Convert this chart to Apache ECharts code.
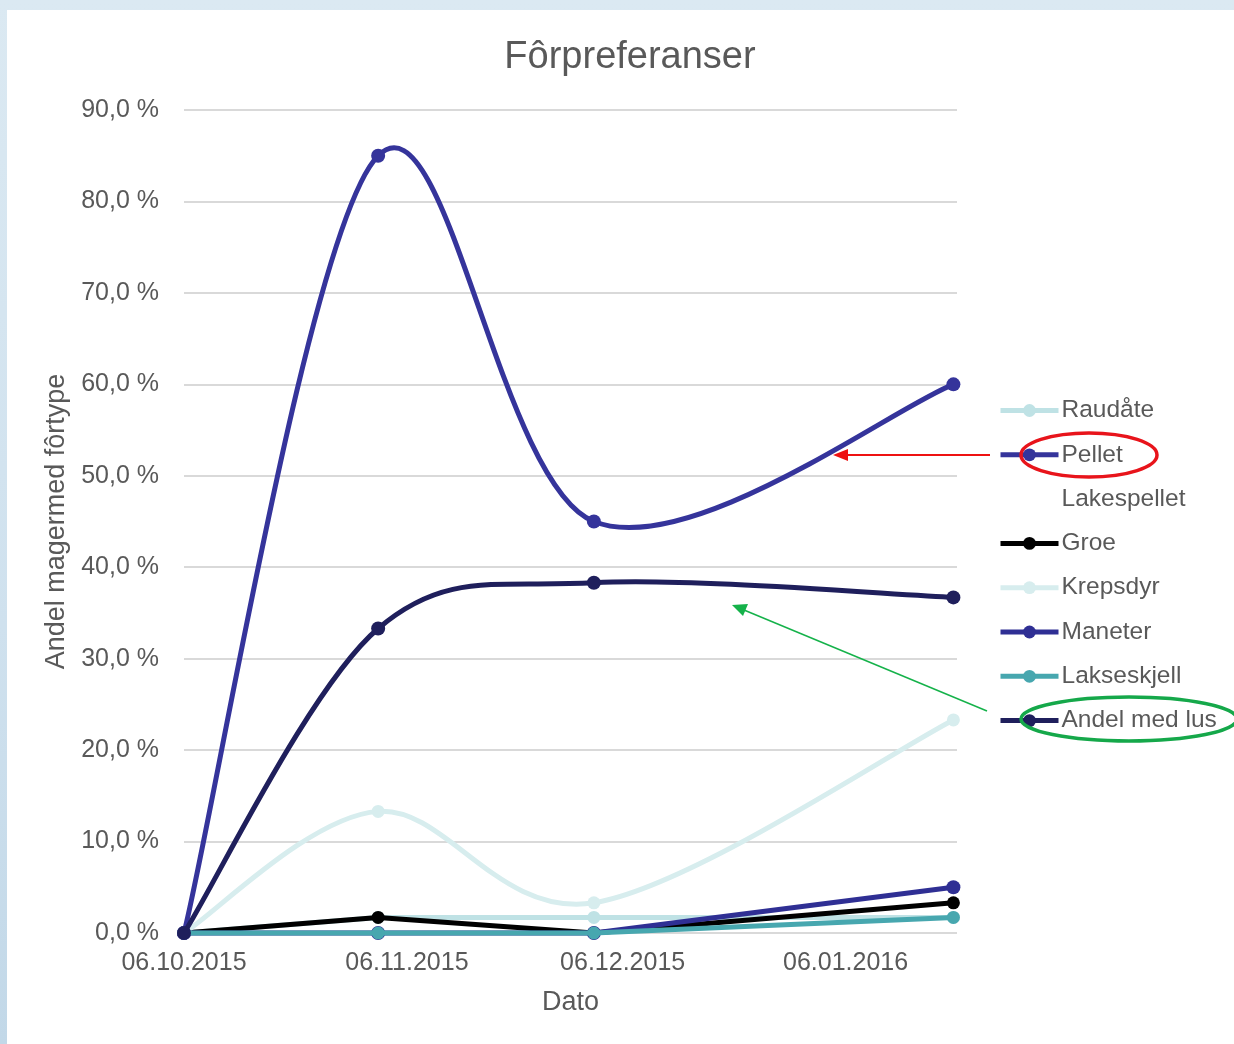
<!DOCTYPE html>
<html>
<head>
<meta charset="utf-8">
<script src="https://cdn.jsdelivr.net/npm/echarts@6/dist/echarts.min.js"></script>
<style>
  html, body { margin: 0; padding: 0; width: 1234px; height: 1044px; overflow: hidden;
    background: linear-gradient(180deg, #dbe9f2 0%, #cfe1ee 60%, #c2d8e8 100%); }
  #panel { position: absolute; left: 7px; top: 10px; width: 1227px; height: 1034px; background: #ffffff; }
  #main { position: absolute; left: 0; top: 0; width: 1234px; height: 1044px; }
</style>
</head>
<body>
<div id="panel"></div>
<div id="main"></div>
<script>
// ---- data ----
const dates = ['2015-10-06', '2015-11-02', '2015-12-02', '2016-01-21'];
const tickDates = ['2015-10-06', '2015-11-06', '2015-12-06', '2016-01-06'];
const seriesNames = ['Raudåte', 'Pellet', 'Lakespellet', 'Groe', 'Krepsdyr', 'Maneter', 'Lakseskjell', 'Andel med lus'];
const raudate     = [0, 1.7, 1.7, 1.7];
const pellet      = [0, 85.0, 45.0, 60.0];
const lakespellet = [];
const groe        = [0, 1.7, 0, 3.3];
const krepsdyr    = [0, 13.3, 3.3, 23.3];
const maneter     = [0, 0, 0, 5.0];
const lakseskjell = [0, 0, 0, 1.7];
const andelMedLus = [0, 33.3, 38.3, 36.7];
const yTicks = [0, 10, 20, 30, 40, 50, 60, 70, 80, 90];

const DAY = 86400000;
function toTime(s) { const p = s.split('-').map(Number); return Date.UTC(p[0], p[1] - 1, p[2]); }
function pairs(vals) { return vals.map((v, i) => [toTime(dates[i]), v]); }
function pad(n) { return (n < 10 ? '0' : '') + n; }

const FONT = "'Liberation Sans', Arial, sans-serif";
const TXT = '#595959';
const LW = 5;

// Legend-only line series (empty data) + custom series that draws the curve through the axes
function legendSeries(name, color, visible) {
  return {
    name: name, type: 'line', data: [], symbol: visible ? 'circle' : 'none', symbolSize: 13,
    lineStyle: { color: visible ? color : 'rgba(0,0,0,0)', width: visible ? LW : 0 },
    itemStyle: { color: visible ? color : 'rgba(0,0,0,0)' }, animation: false
  };
}

function curveSeries(name, vals, color, smooth, symSize) {
  const pts = pairs(vals);
  return {
    name: name, type: 'custom', data: pts, animation: false, silent: true,
    encode: { x: 0, y: 1 },
    renderItem: function (params, api) {
      const c = api.coord([api.value(0), api.value(1)]);
      const circle = { type: 'circle', shape: { cx: c[0], cy: c[1], r: symSize / 2 }, style: { fill: color } };
      if (params.dataIndex !== 0) return circle;
      const P = pts.map(p => api.coord(p));
      let d = 'M' + P[0][0] + ' ' + P[0][1];
      for (let i = 0; i < P.length - 1; i++) {
        const p0 = P[Math.max(i - 1, 0)], p1 = P[i], p2 = P[i + 1], p3 = P[Math.min(i + 2, P.length - 1)];
        if (smooth) {
          const c1 = [p1[0] + (p2[0] - p0[0]) / 6, p1[1] + (p2[1] - p0[1]) / 6];
          const c2 = [p2[0] - (p3[0] - p1[0]) / 6, p2[1] - (p3[1] - p1[1]) / 6];
          d += ' C' + c1[0] + ' ' + c1[1] + ' ' + c2[0] + ' ' + c2[1] + ' ' + p2[0] + ' ' + p2[1];
        } else {
          d += ' L' + p2[0] + ' ' + p2[1];
        }
      }
      return {
        type: 'group', children: [
          { type: 'path', shape: { pathData: d }, style: { fill: null, stroke: color, lineWidth: LW, lineJoin: 'round', lineCap: 'round' } },
          circle
        ]
      };
    }
  };
}

const colors = ['#bfe2e5', '#35349b', null, '#000000', '#d7edee', '#2f2f94', '#47a7af', '#1f1f5c'];
const valueSets = [raudate, pellet, lakespellet, groe, krepsdyr, maneter, lakseskjell, andelMedLus];
const smoothFlags = [false, true, false, false, true, false, false, true];
const symSizes = [13, 14, 0, 13, 13, 14, 13, 14];

const series = [];
seriesNames.forEach((n, i) => series.push(legendSeries(n, colors[i], !!colors[i])));
seriesNames.forEach((n, i) => {
  if (colors[i] && valueSets[i].length) series.push(curveSeries(n, valueSets[i], colors[i], smoothFlags[i], symSizes[i]));
});

const chart = echarts.init(document.getElementById('main'), null, { renderer: 'canvas' });
const xMin = toTime(dates[0]);
const xMax = toTime(dates[3]) + DAY / 2;

chart.setOption({
  backgroundColor: 'transparent',
  animation: false,
  textStyle: { fontFamily: FONT },
  title: {
    text: 'Fôrpreferanser', left: 625, top: 34, textAlign: 'center',
    textStyle: { fontFamily: FONT, fontSize: 38, fontWeight: 'normal', color: TXT }
  },
  grid: { left: 184, top: 110, right: 1234 - 957, bottom: 1044 - 933, containLabel: false },
  xAxis: {
    type: 'value', min: xMin, max: xMax, scale: true,
    name: 'Dato', nameLocation: 'middle', nameGap: 56,
    nameTextStyle: { fontFamily: FONT, fontSize: 27, color: TXT },
    axisLine: { show: false }, axisTick: { show: false },
    splitLine: { show: false },
    axisLabel: {
      customValues: tickDates.map(toTime), margin: 18, hideOverlap: false,
      showMinLabel: true, showMaxLabel: true,
      fontFamily: FONT, fontSize: 25, color: TXT,
      formatter: function (v) { const d = new Date(v); return pad(d.getUTCDate()) + '.' + pad(d.getUTCMonth() + 1) + '.' + d.getUTCFullYear(); }
    }
  },
  yAxis: {
    type: 'value', min: yTicks[0], max: yTicks[yTicks.length - 1], interval: 10,
    name: 'Andel magermed fôrtype', nameLocation: 'middle', nameGap: 111, nameRotate: 90,
    nameTextStyle: { fontFamily: FONT, fontSize: 27, color: TXT },
    axisLine: { show: false }, axisTick: { show: false },
    splitLine: { lineStyle: { color: '#d9d9d9', width: 2 } },
    axisLabel: {
      margin: 25, fontFamily: FONT, fontSize: 25, color: TXT,
      formatter: function (v) { return v.toFixed(1).replace('.', ',') + ' %'; }
    }
  },
  legend: {
    orient: 'vertical', left: 998, top: 398, padding: 0,
    itemWidth: 58, itemHeight: 16, itemGap: 19.3,
    data: seriesNames,
    lineStyle: { width: LW },
    textStyle: { fontFamily: FONT, fontSize: 24.5, color: TXT, lineHeight: 23, padding: [0, 0, 0, -2] },
    selectedMode: false
  },
  graphic: [
    { type: 'ellipse', shape: { cx: 1089, cy: 455, rx: 68, ry: 22 }, style: { fill: 'none', stroke: '#e8141b', lineWidth: 3.5 }, z: 100 },
    { type: 'line', shape: { x1: 990, y1: 455, x2: 846, y2: 455 }, style: { stroke: '#ee1111', lineWidth: 2 }, z: 100 },
    { type: 'polygon', shape: { points: [[833, 455], [848, 449], [848, 461]] }, style: { fill: '#ee1111' }, z: 100 },
    { type: 'ellipse', shape: { cx: 1129, cy: 719, rx: 108, ry: 22 }, style: { fill: 'none', stroke: '#15a84a', lineWidth: 3.5 }, z: 100 },
    { type: 'line', shape: { x1: 987, y1: 711, x2: 744, y2: 610 }, style: { stroke: '#15b24a', lineWidth: 1.5 }, z: 100 },
    { type: 'polygon', shape: { points: [[732, 605], [748, 604], [743, 616]] }, style: { fill: '#15b24a' }, z: 100 }
  ],
  series: series
});
</script>
</body>
</html>
